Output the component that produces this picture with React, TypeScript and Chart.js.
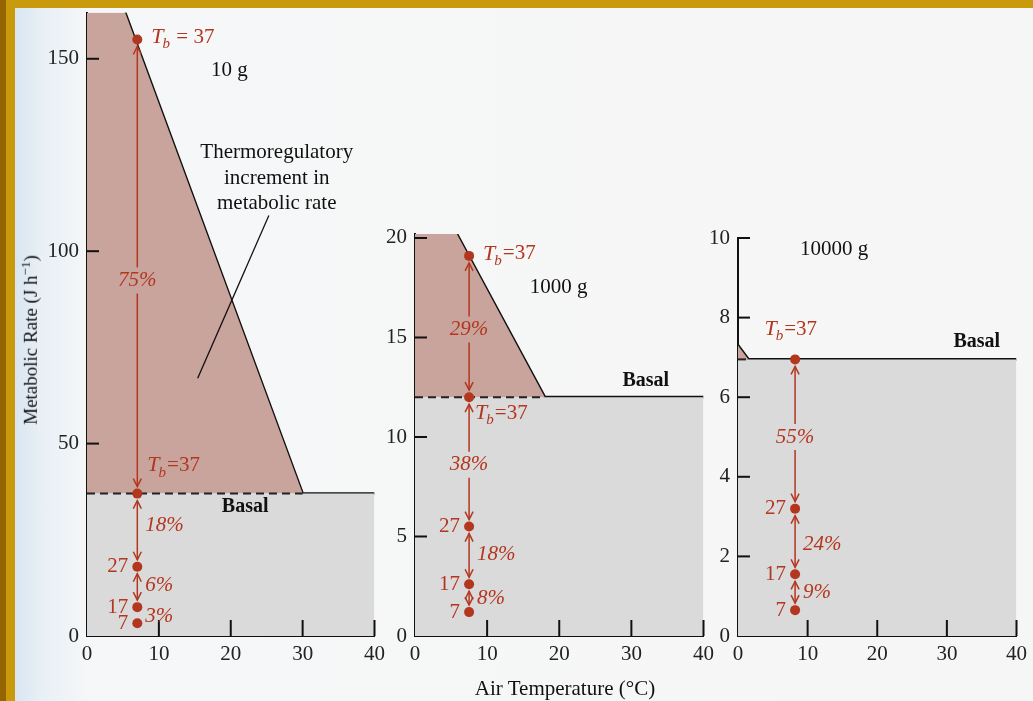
import React, { useEffect, useRef } from "react";
import { Chart, registerables } from "chart.js";
Chart.register(...registerables);

// ---------- data ----------
const xTicks = [0, 10, 20, 30, 40];

// Panel 1: 10 g
const p1YTicks = [0, 50, 100, 150];
const p1Basal = 37;
const p1LineX = [5.3, 30, 40];
const p1LineY = [162, 37, 37];
const p1PtY = [155, 37, 18, 7.5, 3.3];
const p1PtLabel = ["Tb=37", "Tb=37b", "27", "17", "7"];
const p1PctText = ["75%", "18%", "6%", "3%"];
const p1PctY = [92.4, 28.8, 13.2, 5];
const p1PctOn = [true, false, false, false];
const p1Arrows = [[0, 1], [1, 2], [2, 3]];

// Panel 2: 1000 g
const p2YTicks = [0, 5, 10, 15, 20];
const p2Basal = 12;
const p2LineX = [5.8, 18, 40];
const p2LineY = [20.2, 12, 12];
const p2PtY = [19.1, 12, 5.5, 2.6, 1.2];
const p2PtLabel = ["Tb=37", "Tb=37c", "27", "17", "7"];
const p2PctText = ["29%", "38%", "18%", "8%"];
const p2PctY = [15.4, 8.6, 4.1, 1.9];
const p2PctOn = [true, true, false, false];
const p2Arrows = [[0, 1], [1, 2], [2, 3], [3, 4]];

// Panel 3: 10000 g
const p3YTicks = [0, 2, 4, 6, 8, 10];
const p3Basal = 6.95;
const p3LineX = [0, 1.5, 40];
const p3LineY = [7.3, 6.95, 6.95];
const p3PtY = [6.95, 3.2, 1.55, 0.65];
const p3PtLabel = ["Tb=37d", "27", "17", "7"];
const p3PctText = ["55%", "24%", "9%"];
const p3PctY = [5.0, 2.3, 1.1];
const p3PctOn = [true, false, false];
const p3Arrows = [[0, 1], [1, 2], [2, 3]];

const RED = "#b3361f";
const PINK = "#c9a49d";
const GRAY = "#dadada";
const SERIF = "'Liberation Serif', 'DejaVu Serif', serif";

type Panel = {
  left: number; top: number; width: number; padTop: number; yMax: number; yTicks: number[];
  basal: number; lineX: number[]; lineY: number[]; ptX: number; ptY: number[]; ptLabel: string[];
  pctText: string[]; pctY: number[]; pctOn: boolean[]; arrows: number[][];
  texts: { t: string; x: number; y: number }[]; leader?: number[];
};

const panels: Panel[] = [
  {
    left: 37, top: -8, width: 354, padTop: 4, yMax: 162, yTicks: p1YTicks, basal: p1Basal,
    lineX: p1LineX, lineY: p1LineY, ptX: 7, ptY: p1PtY, ptLabel: p1PtLabel,
    pctText: p1PctText, pctY: p1PctY, pctOn: p1PctOn, arrows: p1Arrows,
    texts: [
      { t: "10 g", x: 19.8, y: 147 },
      { t: "Thermoregulatory", x: 26.4, y: 125.6 },
      { t: "increment in", x: 26.4, y: 118.9 },
      { t: "metabolic rate", x: 26.4, y: 112.4 },
      { t: "Basal", x: 22, y: 33.5 },
    ],
    leader: [25.3, 109.3, 15.4, 67],
  },
  {
    left: 365, top: 8, width: 355, padTop: 226, yMax: 20.2, yTicks: p2YTicks, basal: p2Basal,
    lineX: p2LineX, lineY: p2LineY, ptX: 7.5, ptY: p2PtY, ptLabel: p2PtLabel,
    pctText: p2PctText, pctY: p2PctY, pctOn: p2PctOn, arrows: p2Arrows,
    texts: [
      { t: "1000 g", x: 19.9, y: 17.5 },
      { t: "Basal", x: 32, y: 12.8 },
    ],
  },
  {
    left: 688, top: 8, width: 345, padTop: 230, yMax: 10, yTicks: p3YTicks, basal: p3Basal,
    lineX: p3LineX, lineY: p3LineY, ptX: 8.2, ptY: p3PtY, ptLabel: p3PtLabel,
    pctText: p3PctText, pctY: p3PctY, pctOn: p3PctOn, arrows: p3Arrows,
    texts: [
      { t: "10000 g", x: 13.8, y: 9.7 },
      { t: "Basal", x: 34.3, y: 7.4 },
    ],
  },
];

function drawTb(ctx: CanvasRenderingContext2D, x: number, y: number, spaced: boolean, align: string) {
  ctx.save();
  ctx.fillStyle = RED;
  ctx.textBaseline = "middle";
  ctx.textAlign = "left";
  const rest = spaced ? " = 37" : "=37";
  ctx.font = `italic 22px ${SERIF}`;
  const wT = ctx.measureText("T").width;
  ctx.font = `italic 15px ${SERIF}`;
  const wb = ctx.measureText("b").width;
  ctx.font = `21px ${SERIF}`;
  const wr = ctx.measureText(rest).width;
  const total = wT + wb + wr;
  const sx = align === "right" ? x - total : x;
  ctx.font = `italic 22px ${SERIF}`;
  ctx.fillText("T", sx, y);
  ctx.font = `italic 15px ${SERIF}`;
  ctx.fillText("b", sx + wT - 1, y + 7);
  ctx.font = `21px ${SERIF}`;
  ctx.fillText(rest, sx + wT + wb, y);
  ctx.restore();
}

function head(ctx: CanvasRenderingContext2D, x: number, y: number, dir: number) {
  ctx.beginPath();
  ctx.moveTo(x - 4, y - dir * 8);
  ctx.lineTo(x, y);
  ctx.lineTo(x + 4, y - dir * 8);
  ctx.stroke();
}

function makePlugin(p: Panel) {
  return {
    id: "anno",
    afterDatasetsDraw(chart: any) {
      const ctx: CanvasRenderingContext2D = chart.ctx;
      const xs = chart.scales.x, ys = chart.scales.y;
      const a = chart.chartArea;
      ctx.save();
      // dashed basal segment
      ctx.strokeStyle = "#222";
      ctx.lineWidth = 2;
      ctx.setLineDash([8, 5]);
      ctx.beginPath();
      ctx.moveTo(xs.getPixelForValue(0), ys.getPixelForValue(p.basal));
      ctx.lineTo(xs.getPixelForValue(p.lineX[1]), ys.getPixelForValue(p.basal));
      ctx.stroke();
      ctx.setLineDash([]);
      // tick marks
      ctx.strokeStyle = "#111";
      ctx.lineWidth = 2;
      p.yTicks.forEach((v) => {
        if (v === 0) return;
        const py = ys.getPixelForValue(v);
        ctx.beginPath(); ctx.moveTo(a.left, py); ctx.lineTo(a.left + 12, py); ctx.stroke();
      });
      xTicks.forEach((v) => {
        if (v === 0) return;
        const px = xs.getPixelForValue(v);
        ctx.beginPath(); ctx.moveTo(px, a.bottom); ctx.lineTo(px, a.bottom - 16); ctx.stroke();
      });
      const px = xs.getPixelForValue(p.ptX);
      // arrows
      ctx.strokeStyle = RED;
      ctx.lineWidth = 1.5;
      p.arrows.forEach(([i, j], k) => {
        const y1 = ys.getPixelForValue(p.ptY[i]) + 7;
        const y2 = ys.getPixelForValue(p.ptY[j]) - 7;
        if (y2 - y1 < 4) return;
        const on = p.pctOn[k];
        const ty = ys.getPixelForValue(p.pctY[k]);
        ctx.beginPath();
        if (on) {
          ctx.moveTo(px, y1); ctx.lineTo(px, ty - 13);
          ctx.moveTo(px, ty + 13); ctx.lineTo(px, y2);
        } else {
          ctx.moveTo(px, y1); ctx.lineTo(px, y2);
        }
        ctx.stroke();
        head(ctx, px, y1, -1);
        head(ctx, px, y2, 1);
      });
      // points
      ctx.fillStyle = RED;
      p.ptY.forEach((v) => {
        ctx.beginPath();
        ctx.arc(px, ys.getPixelForValue(v), 5, 0, Math.PI * 2);
        ctx.fill();
      });
      // point labels
      p.ptLabel.forEach((l, i) => {
        const py = ys.getPixelForValue(p.ptY[i]);
        if (l === "Tb=37") drawTb(ctx, px + 14, py - 2, p === panels[0], "left");
        else if (l === "Tb=37b") drawTb(ctx, px + 10, py - 28, false, "left");
        else if (l === "Tb=37c") drawTb(ctx, px + 6, py + 16, false, "left");
        else if (l === "Tb=37d") drawTb(ctx, px + 22, py - 30, false, "right");
        else {
          ctx.font = `21px ${SERIF}`;
          ctx.textAlign = "right"; ctx.textBaseline = "middle";
          ctx.fillStyle = RED;
          ctx.fillText(l, px - 9, py);
        }
      });
      // percent labels
      ctx.font = `italic 21px ${SERIF}`;
      ctx.fillStyle = RED;
      ctx.textBaseline = "middle";
      p.pctText.forEach((t, i) => {
        const py = ys.getPixelForValue(p.pctY[i]);
        if (p.pctOn[i]) { ctx.textAlign = "center"; ctx.fillText(t, px, py); }
        else { ctx.textAlign = "left"; ctx.fillText(t, px + 8, py); }
      });
      // texts
      ctx.fillStyle = "#111";
      ctx.textAlign = "center";
      p.texts.forEach((t) => {
        ctx.font = t.t === "Basal" ? `bold 20px ${SERIF}` : `21px ${SERIF}`;
        ctx.fillText(t.t, xs.getPixelForValue(t.x), ys.getPixelForValue(t.y));
      });
      if (p.leader) {
        ctx.strokeStyle = "#111"; ctx.lineWidth = 1.3;
        ctx.beginPath();
        ctx.moveTo(xs.getPixelForValue(p.leader[0]), ys.getPixelForValue(p.leader[1]));
        ctx.lineTo(xs.getPixelForValue(p.leader[2]), ys.getPixelForValue(p.leader[3]));
        ctx.stroke();
      }
      ctx.restore();
    },
  };
}

function PanelChart({ p }: { p: Panel }) {
  const ref = useRef<HTMLCanvasElement>(null);
  useEffect(() => {
    const topPts = p.lineX[0] > 0
      ? [{ x: 0, y: p.lineY[0] }, ...p.lineX.map((x, i) => ({ x, y: p.lineY[i] }))]
      : p.lineX.map((x, i) => ({ x, y: p.lineY[i] }));
    const chart = new Chart(ref.current!, {
      type: "line",
      data: {
        datasets: [
          { data: [{ x: 0, y: p.basal }, { x: 40, y: p.basal }], fill: "origin", backgroundColor: GRAY, borderWidth: 0, pointRadius: 0 },
          { data: topPts, fill: "-1", backgroundColor: PINK, borderWidth: 0, pointRadius: 0 },
          { data: p.lineX.map((x, i) => ({ x, y: p.lineY[i] })), borderColor: "#111", borderWidth: 2.8, pointRadius: 0, fill: false },
        ],
      },
      options: {
        animation: false, responsive: false, events: [],
        layout: { padding: { top: p.padTop, right: 0, left: 0, bottom: 0 } },
        plugins: { legend: { display: false }, tooltip: { enabled: false } },
        scales: {
          x: {
            type: "linear", min: 0, max: 40,
            afterBuildTicks: (s: any) => { s.ticks = xTicks.map((v) => ({ value: v })); },
            afterFit: (s: any) => { s.height = 40; },
            grid: { display: false, drawTicks: false },
            border: { display: true, color: "#111", width: 2 },
            ticks: { color: "#222", font: { family: SERIF, size: 21 }, padding: 6 },
          },
          y: {
            type: "linear", min: 0, max: p.yMax,
            afterBuildTicks: (s: any) => { s.ticks = p.yTicks.map((v) => ({ value: v })); },
            afterFit: (s: any) => { s.width = 50; },
            grid: { display: false, drawTicks: false },
            border: { display: true, color: "#111", width: 2 },
            ticks: { color: "#222", font: { family: SERIF, size: 21 }, padding: 8 },
          },
        },
      },
      plugins: [makePlugin(p)],
    } as any);
    return () => chart.destroy();
  }, [p]);
  return (
    <canvas ref={ref} width={p.width} height={676 - p.top}
      style={{ position: "absolute", left: p.left, top: p.top }} />
  );
}

export default function App() {
  return (
    <div style={{
      position: "fixed", left: 0, top: 0, width: 1033, height: 701, overflow: "hidden",
      background: "linear-gradient(90deg, #cfe0ee 0px, #e8eff5 40px, #f6f7f8 90px, #f6f6f6 100%)",
      fontFamily: SERIF,
    }}>
      {panels.map((p, i) => <PanelChart key={i} p={p} />)}
      <div style={{ position: "absolute", left: 0, top: 0, width: 1033, height: 8, background: "#c99a0c" }} />
      <div style={{ position: "absolute", left: 0, top: 0, width: 15, height: 701, background: "linear-gradient(90deg,#946500 0,#946500 6px,#c99a0c 6px)" }} />
      <div style={{
        position: "absolute", left: 30, top: 340, transform: "translate(-50%,-50%) rotate(-90deg)",
        whiteSpace: "nowrap", fontSize: 19, color: "#111",
      }}>Metabolic Rate (J h<sup style={{ fontSize: 13 }}>−1</sup>)</div>
      <div style={{
        position: "absolute", left: 565, top: 688, transform: "translate(-50%,-50%)",
        whiteSpace: "nowrap", fontSize: 21, color: "#111",
      }}>Air Temperature (°C)</div>
    </div>
  );
}
